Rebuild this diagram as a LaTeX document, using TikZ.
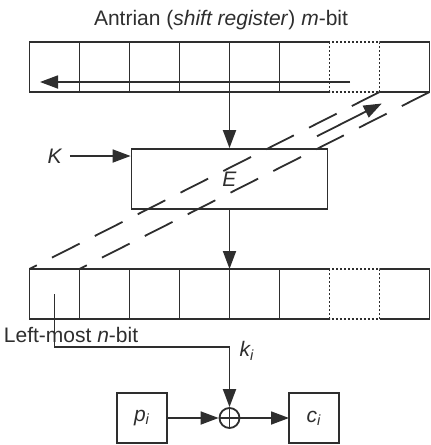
\documentclass[tikz,border=0pt]{standalone}
\usepackage{fontspec}
\setmainfont{Liberation Sans}
\usepackage{tikz}
\usetikzlibrary{arrows.meta,calc}
\usepackage{xcolor}
\definecolor{ink}{HTML}{2E2E2E}

\begin{document}
\begin{tikzpicture}[x=0.5pt, y=-0.5pt, line width=0.9pt, color=ink,
      every node/.style={font=\fontsize{10.5}{12}\selectfont},
      cell/.style={minimum width=25pt, minimum height=25pt, inner sep=0pt, outer sep=0pt},
      feed/.style={dash pattern=on 15.5pt off 8.5pt},
      gap/.style={dash pattern=on 1pt off 1pt},
      >={Triangle[length=9pt, width=6.5pt]}]
    \useasboundingbox (0,0) rectangle (430,445);
    \node (title) at (221,20) {Antrian (\textit{shift register}) \textit{m}-bit};
    % the two registers
    \foreach \r/\y in {t/67, b/294} {
      \foreach \i in {1,...,8}
        \node[cell] (\r\i) at ({4.5+50*\i},\y) {};
      \foreach \i in {1,...,5}
        \draw (\r\i.north west) rectangle (\r\i.south east);
      \draw (\r6.north west) -- (\r6.north east) (\r6.south west) -- (\r6.south east);
      \draw[gap] (\r7.north west) rectangle (\r7.south east);
      \draw (\r8.north west) -- (\r8.north east) -- (\r8.south east) -- (\r8.south west);
    }
    \coordinate (sa) at (350,82); \coordinate (sb) at (40,82);
    \draw[->] (sa) -- (sb);
    \node[draw, minimum width=98pt, minimum height=30pt, inner sep=0pt] (E) at (229.5,179) {\textit{E}};
    \node (K) at (55,156) {\textit{K}};
    \draw[->] (K.east) -- (K.east -| E.west);
    \draw[->] (t4.south east) -- (E.north);
    \draw[->] (E.south) -- (b4.north east);
    % feedback of the output
    \draw[feed] (t8.south west) -- (b1.north west);
    \draw[feed] (t8.south east) -- (b2.north west);
    \draw[->] ($(b1.north)!0.75!(t8.south)$) -- ($(b1.north)!0.935!(t8.south)$);
    \node[anchor=west, inner sep=0pt] (lm) at (3,335) {Left-most \textit{n}-bit};
    \node[circle, draw, minimum size=10pt, inner sep=0pt] (x) at (229.5,418) {};
    \draw (x.north) -- (x.south) (x.west) -- (x.east);
    \coordinate (kc) at (229.5,347);
    \draw[->] (b1.center) |- (kc) -- (x.north);
    \node[anchor=west] (ki) at (232,351) {\textit{k\textsubscript{i}}};
    \node[cell, draw] (p) at (142,418) {\textit{p\textsubscript{i}}};
    \node[cell, draw] (c) at (314,418) {\textit{c\textsubscript{i}}};
    \draw[->] (p) -- (x);
    \draw[->] (x) -- (c);
  \end{tikzpicture}
\end{document}
